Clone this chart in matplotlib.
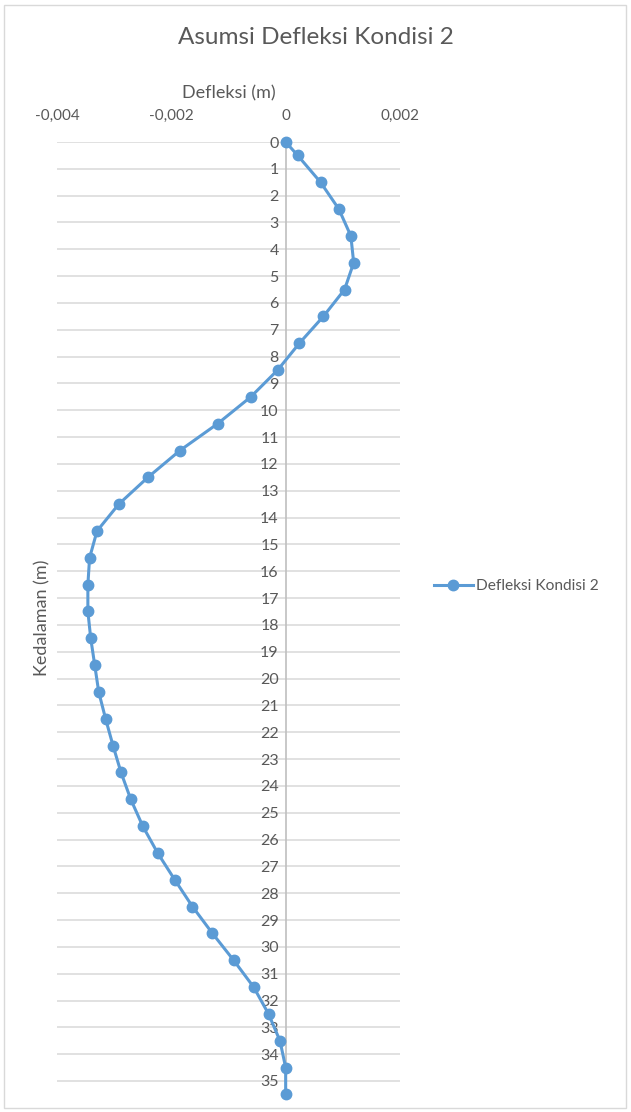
import matplotlib
matplotlib.use("Agg")
import matplotlib.pyplot as plt
from matplotlib.ticker import FuncFormatter, MultipleLocator
from matplotlib.patches import Rectangle

plt.rcParams['font.family'] = ['Lato', 'DejaVu Sans']

depth = [0, 0.5, 1.5, 2.5, 3.5, 4.5, 5.5, 6.5, 7.5, 8.5, 9.5, 10.5, 11.5, 12.5,
         13.5, 14.5, 15.5, 16.5, 17.5, 18.5, 19.5, 20.5, 21.5, 22.5, 23.5, 24.5,
         25.5, 26.5, 27.5, 28.5, 29.5, 30.5, 31.5, 32.5, 33.5, 34.5, 35.5]
deflection = [0.0, 0.00021, 0.00061, 0.00093, 0.00114, 0.00119, 0.00103, 0.00066,
              0.00024, -0.00014, -0.00061, -0.00119, -0.00185, -0.00241, -0.00292,
              -0.00330, -0.00343, -0.00346, -0.00346, -0.00341, -0.00334, -0.00327,
              -0.00315, -0.00302, -0.00288, -0.00271, -0.00250, -0.00224, -0.00194,
              -0.00163, -0.00128, -0.00091, -0.00056, -0.00030, -0.00010, 0.0, 0.0]
series_name = "Defleksi Kondisi 2"
title = "Asumsi Defleksi Kondisi 2"
xlabel = "Defleksi (m)"
ylabel = "Kedalaman (m)"

W, H = 631, 1112
fig = plt.figure(figsize=(W / 100, H / 100), dpi=100)
fig.patches.append(Rectangle((4 / W, 4 / H), (W - 9) / W, (H - 9) / H, transform=fig.transFigure,
                             fill=False, edgecolor='#D9D9D9', lw=1))

left, right, top, bottom = 57, 400, 142, 1094.4
ax = fig.add_axes([left / W, 1 - bottom / H, (right - left) / W, (bottom - top) / H])

color = '#5B9BD5'
ax.plot(deflection, depth, '-o', color=color, lw=2.2, markersize=7.5, label=series_name,
        zorder=3, clip_on=False)

ax.set_xlim(-0.004, 0.002)
ax.set_ylim(35.5, 0)
ax.xaxis.set_major_locator(MultipleLocator(0.002))
ax.set_yticks(range(0, 36))

def fmt(v, pos):
    if abs(v) < 1e-12:
        return "0"
    return ("%.3f" % v).replace('.', ',')

ax.xaxis.set_major_formatter(FuncFormatter(fmt))
ax.xaxis.tick_top()
ax.xaxis.set_label_position('top')

for s in ['top', 'right', 'bottom']:
    ax.spines[s].set_visible(False)
ax.spines['left'].set_position(('data', 0))
ax.spines['left'].set_color('#BFBFBF')
ax.spines['left'].set_linewidth(1.2)

ax.tick_params(axis='both', length=0, labelsize=11, labelcolor='#595959')
ax.tick_params(axis='x', pad=14)
ax.tick_params(axis='y', pad=5, labelsize=11.5)

ax.grid(axis='y', color='#D9D9D9', lw=1.1)
ax.grid(axis='x', visible=False)
ax.set_axisbelow(True)

fig.text(W / 2 / W, 1 - 38 / H, title, ha='center', va='center', fontsize=17.5, color='#595959')
fig.text(228.5 / W, 1 - 93 / H, xlabel, ha='center', va='center', fontsize=13, color='#595959')
fig.text(42 / W, 1 - 618 / H, ylabel, ha='center', va='center', rotation=90, fontsize=13,
         color='#595959')

fig.legend(loc='center left', bbox_to_anchor=(420 / W, 1 - 586 / H), frameon=False,
           fontsize=11.2, labelcolor='#595959', handlelength=2.5, handletextpad=0.2)

fig.savefig('out.png', dpi=100)
